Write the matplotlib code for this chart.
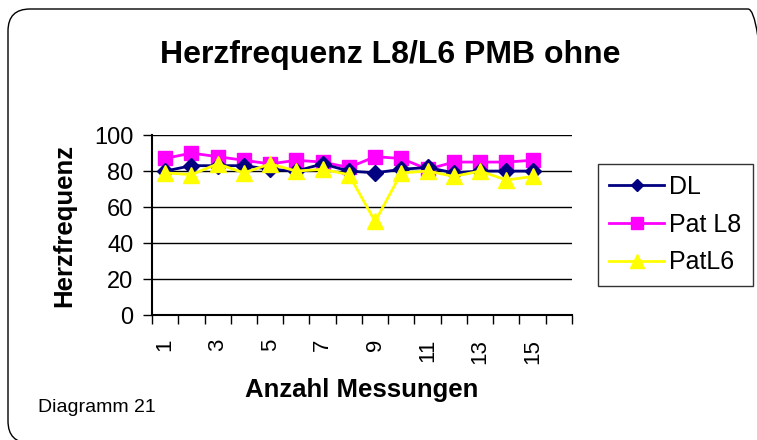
import numpy as np
import matplotlib
matplotlib.use("Agg")
import matplotlib.pyplot as plt
from matplotlib.patches import FancyBboxPatch

plt.rcParams['font.family'] = ['Liberation Sans', 'DejaVu Sans']

messungen = list(range(1, 16))
dl = [80, 83, 83, 83, 81, 80, 84, 80, 79, 81, 82, 79, 80, 80, 80]
pat_l8 = [87, 90, 88, 86, 84, 86, 85, 82, 88, 87, 81, 85, 85, 85, 86]
pat_l6 = [79, 78, 84, 79, 84, 80, 81, 78, 52, 79, 80, 77, 80, 75, 77]
n_cat = 16

fig = plt.figure(figsize=(7.57, 4.4), dpi=100)

# rounded chart border (pixel coords, partly cut off right/bottom like the original)
border = FancyBboxPatch((8, -3), 762, 434, boxstyle="round,pad=0,rounding_size=22",
                        transform=None, fill=False, edgecolor='black', lw=1.0)
fig.patches.append(border)

ax = fig.add_axes([0.2008, 0.284, 0.5548, 0.409])

ax.plot(messungen, dl, color='#000080', marker='D', markersize=8, lw=2, label='DL', zorder=3)
ax.plot(messungen, pat_l8, color='#FF00FF', marker='s', markersize=10, lw=2, label='Pat L8', zorder=2)
ax.plot(messungen, pat_l6, color='#FFFF00', marker='^', markersize=12, lw=2, label='PatL6', zorder=4)

ax.set_xlim(0.5, n_cat + 0.5)
ax.set_ylim(0, 100)
ax.set_yticks(np.arange(0, 101, 20))
ax.tick_params(axis='y', labelsize=17, length=6.5, width=1, direction='out', pad=7)
ax.yaxis.grid(True, color='black', lw=1)
ax.set_axisbelow(True)

ax.set_xticks(np.arange(0.5, n_cat + 1, 1))
ax.set_xticklabels([])
ax.tick_params(axis='x', which='major', length=6.5, width=1, direction='out')
ax.set_xticks(messungen[::2], minor=True)
ax.set_xticklabels([str(m) for m in messungen[::2]], minor=True, rotation=90, fontsize=16)
ax.tick_params(axis='x', which='minor', length=0, pad=17)

for s in ['top', 'right']:
    ax.spines[s].set_visible(False)
ax.spines['left'].set_linewidth(1.5)
ax.spines['bottom'].set_linewidth(1.5)

ax.set_ylabel('Herzfrequenz', fontsize=18.5, fontweight='bold')
ax.yaxis.set_label_coords(-0.18, 0.5)
ax.set_xlabel('Anzahl Messungen', fontsize=18.5, fontweight='bold')
ax.xaxis.set_label_coords(0.5, -0.35)

fig.text(0.515, 0.875, 'Herzfrequenz L8/L6 PMB ohne', ha='center', va='center',
         fontsize=23, fontweight='bold')
fig.text(0.05, 0.073, 'Diagramm 21', ha='left', va='center', fontsize=14)

leg = ax.legend(loc='center left', bbox_to_anchor=(1.062, 0.503), fontsize=18, frameon=True,
                fancybox=False, edgecolor='black', handlelength=2.2, markerscale=0.8,
                labelspacing=0.55, borderpad=0.45, handletextpad=0.2, borderaxespad=0)
leg.get_frame().set_linewidth(1)

fig.savefig('out.png', dpi=100)
